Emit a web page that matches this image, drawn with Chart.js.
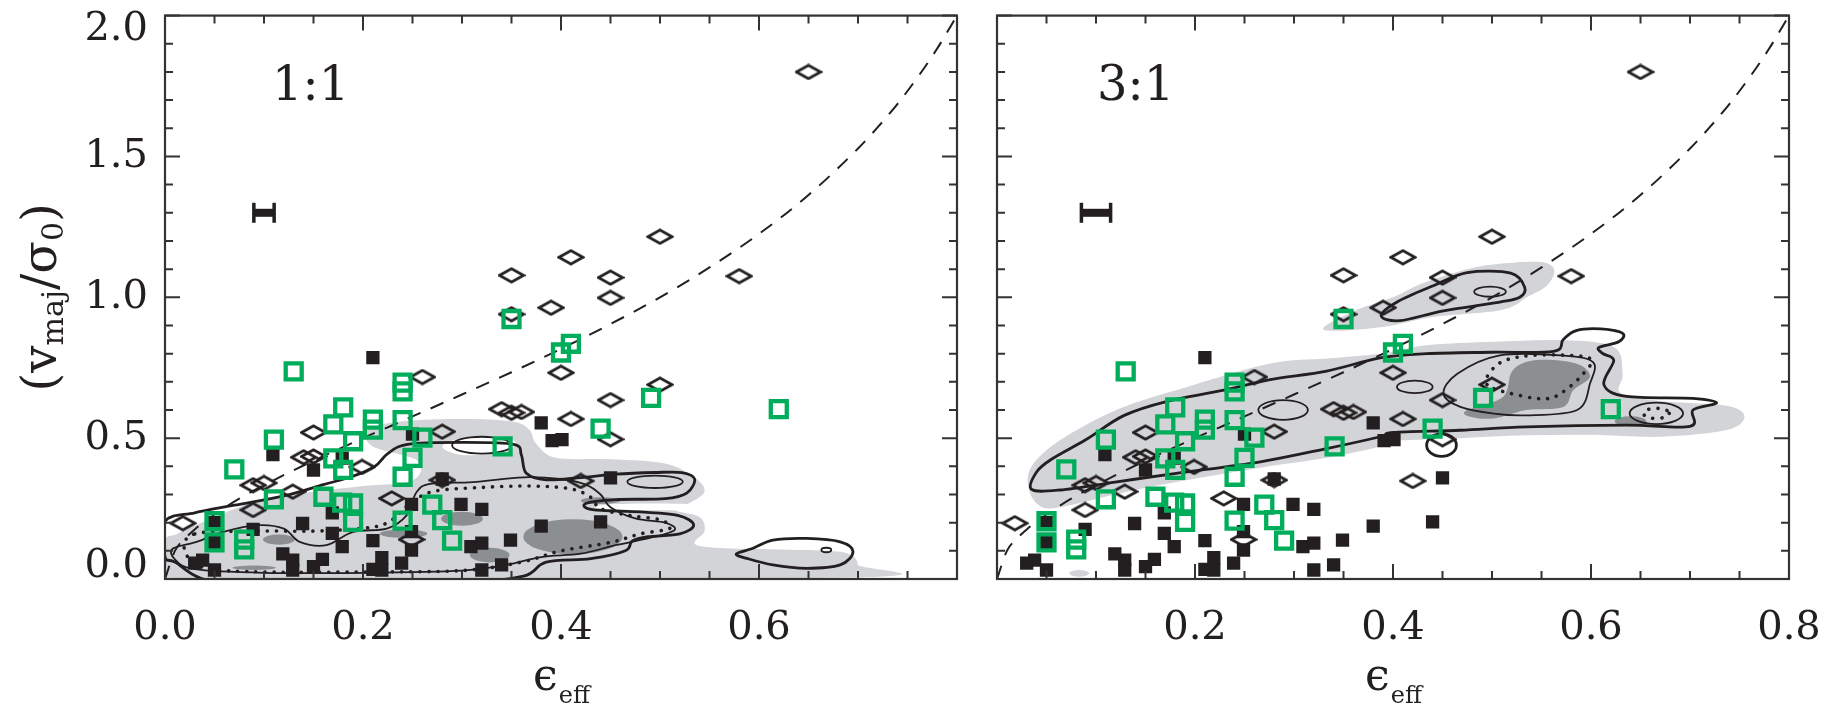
<!DOCTYPE html>
<html><head><meta charset="utf-8">
<script src="https://cdn.jsdelivr.net/npm/chart.js@4.4.0/dist/chart.umd.min.js"></script>
<style>
html,body{margin:0;padding:0;background:#fff;}
body{width:1824px;height:707px;position:relative;overflow:hidden;}
.panel{position:absolute;top:0;height:707px;}
#p1{left:0;width:977px;}
#p2{left:977px;width:847px;}
</style></head><body>
<div class="panel" id="p1"><canvas id="c1"></canvas></div>
<div class="panel" id="p2"><canvas id="c2"></canvas></div>
<script>
// ---------------- data ----------------
const panelLabels = ['1:1', '3:1'];
const xTickLabelsLeft  = ['0.0','0.2','0.4','0.6',''];
const xTickLabelsRight = ['','0.2','0.4','0.6','0.8'];
const yTickValues = [0.0, 0.5, 1.0, 1.5, 2.0];
const yTickLabels = ['0.0','0.5','1.0','1.5','2.0'];

// open diamonds
const diamondX = [0.650,0.500,0.410,0.350,0.450,0.580,0.450,0.390,0.350,0.400,0.500,0.450,0.410,0.450,0.420,0.260,0.150,0.280,0.140,0.150,0.199,0.089,0.100,0.129,0.089,0.018,0.229,0.340,0.350,0.360,0.280,0.249];
const diamondY = [1.800,1.215,1.142,1.078,1.070,1.075,0.998,0.963,0.940,0.732,0.690,0.635,0.568,0.496,0.348,0.717,0.520,0.523,0.432,0.435,0.398,0.333,0.341,0.310,0.245,0.198,0.286,0.603,0.590,0.593,0.351,0.140];

// filled black squares
const blackX = [0.210,0.380,0.391,0.401,0.250,0.109,0.150,0.179,0.280,0.450,0.380,0.440,0.249,0.299,0.320,0.089,0.050,0.050,0.139,0.169,0.169,0.179,0.210,0.249,0.249,0.309,0.320,0.349,0.340,0.320,0.030,0.038,0.050,0.119,0.129,0.129,0.150,0.159,0.210,0.219,0.219,0.239];
const blackY = [0.786,0.554,0.491,0.495,0.514,0.442,0.387,0.429,0.355,0.359,0.188,0.203,0.265,0.265,0.247,0.176,0.200,0.129,0.197,0.235,0.162,0.115,0.136,0.168,0.103,0.115,0.127,0.138,0.050,0.032,0.056,0.067,0.032,0.089,0.067,0.032,0.044,0.070,0.034,0.076,0.032,0.056];

// open green squares
const greenX = [0.130,0.240,0.240,0.180,0.170,0.210,0.210,0.240,0.260,0.110,0.190,0.170,0.180,0.250,0.240,0.070,0.341,0.110,0.160,0.179,0.190,0.190,0.050,0.050,0.080,0.080,0.240,0.270,0.280,0.290,0.350,0.410,0.400,0.491,0.440,0.620];
const greenY = [0.737,0.697,0.666,0.609,0.549,0.566,0.530,0.564,0.502,0.495,0.489,0.428,0.387,0.430,0.363,0.389,0.471,0.283,0.292,0.271,0.268,0.203,0.205,0.130,0.140,0.105,0.207,0.264,0.209,0.136,0.923,0.835,0.804,0.643,0.534,0.603];

// dashed reference curve
const curveX = [0.000,0.010,0.020,0.030,0.050,0.075,0.100,0.150,0.200,0.250,0.300,0.350,0.400,0.450,0.500,0.550,0.600,0.650,0.700,0.720,0.740,0.760,0.780,0.800];
const curveY = [0.000,0.100,0.143,0.176,0.229,0.285,0.333,0.420,0.500,0.577,0.655,0.734,0.817,0.905,1.000,1.106,1.225,1.363,1.528,1.604,1.687,1.780,1.883,2.000];

// typical error bar
const errX = [0.10, 0.10];
const errY = [1.30, 1.30];
const errHalf = [0.0105, 0.015];

// ---- contours, 1:1 panel ----
const L_light = [[0.000,0.005],[0.690,0.005],[0.700,0.050],[0.685,0.095],[0.620,0.105],[0.560,0.110],[0.535,0.125],[0.545,0.170],[0.540,0.220],[0.515,0.245],[0.530,0.270],[0.545,0.310],[0.535,0.360],[0.505,0.410],[0.450,0.425],[0.395,0.430],[0.375,0.480],[0.368,0.530],[0.350,0.560],[0.300,0.568],[0.240,0.560],[0.205,0.530],[0.210,0.470],[0.255,0.420],[0.250,0.350],[0.200,0.330],[0.150,0.310],[0.110,0.290],[0.075,0.255],[0.040,0.205],[0.012,0.160],[0.000,0.135]];
const L_darkEll = [[0.115,0.140,0.016,0.018],[0.090,0.040,0.022,0.008],[0.241,0.161,0.024,0.015],[0.300,0.214,0.021,0.025],[0.328,0.085,0.020,0.026],[0.412,0.150,0.050,0.062],[0.440,0.278,0.020,0.012]];
const L_hole = [[0.280,0.470],[0.300,0.500],[0.340,0.505],[0.355,0.480],[0.340,0.450],[0.300,0.440]];
const L_gap = [[0.440,0.262],[0.480,0.268],[0.530,0.266],[0.548,0.256],[0.530,0.246],[0.480,0.244],[0.440,0.250]];
const L_thick = [[0.000,0.205],[0.030,0.235],[0.070,0.262],[0.120,0.295],[0.160,0.335],[0.190,0.365],[0.212,0.400],[0.225,0.445],[0.245,0.478],[0.300,0.485],[0.352,0.478],[0.360,0.440],[0.365,0.375],[0.385,0.352],[0.420,0.360],[0.455,0.372],[0.495,0.378],[0.522,0.378],[0.535,0.355],[0.527,0.305],[0.505,0.285],[0.455,0.282],[0.425,0.268],[0.432,0.246],[0.480,0.238],[0.518,0.226],[0.534,0.192],[0.520,0.160],[0.488,0.150],[0.472,0.135],[0.465,0.100],[0.430,0.072],[0.385,0.060],[0.362,0.010],[0.300,-0.010],[0.150,-0.010],[0.050,-0.010],[0.010,0.060],[0.000,0.080]];
const L_loop = [[0.577,0.089],[0.594,0.109],[0.614,0.138],[0.648,0.144],[0.682,0.132],[0.695,0.097],[0.682,0.050],[0.648,0.038],[0.614,0.050],[0.588,0.073]];
const L_thin = [[0.008,0.108],[0.032,0.132],[0.059,0.167],[0.093,0.191],[0.120,0.179],[0.136,0.132],[0.163,0.120],[0.190,0.167],[0.224,0.179],[0.244,0.226],[0.254,0.308],[0.268,0.338],[0.311,0.344],[0.362,0.361],[0.399,0.355],[0.425,0.335],[0.440,0.300],[0.450,0.255],[0.475,0.215],[0.505,0.200],[0.515,0.175],[0.495,0.150],[0.455,0.120],[0.420,0.090],[0.380,0.078],[0.345,0.050],[0.300,0.030],[0.200,0.022],[0.100,0.022],[0.030,0.035],[0.010,0.070]];
const L_dotted = [[0.030,0.160],[0.090,0.170],[0.150,0.170],[0.200,0.180],[0.225,0.200],[0.245,0.260],[0.270,0.310],[0.320,0.325],[0.370,0.330],[0.410,0.320],[0.430,0.290],[0.440,0.250],[0.470,0.225],[0.500,0.210],[0.510,0.180],[0.480,0.160],[0.450,0.130],[0.400,0.100],[0.360,0.060],[0.300,0.030],[0.200,0.025],[0.100,0.025],[0.040,0.040],[0.020,0.100]];
const L_thinEll = [[0.495,0.345,0.028,0.022],[0.668,0.103,0.005,0.008],[0.320,0.475,0.030,0.030]];

// ---- contours, 3:1 panel ----
const R_light1 = [[0.035,0.400],[0.064,0.493],[0.124,0.605],[0.192,0.682],[0.276,0.765],[0.333,0.783],[0.387,0.800],[0.434,0.830],[0.502,0.842],[0.569,0.848],[0.623,0.824],[0.632,0.729],[0.630,0.660],[0.670,0.632],[0.737,0.615],[0.755,0.576],[0.737,0.529],[0.670,0.505],[0.602,0.512],[0.535,0.510],[0.468,0.500],[0.400,0.490],[0.387,0.470],[0.333,0.430],[0.266,0.395],[0.198,0.355],[0.131,0.310],[0.064,0.255],[0.043,0.260],[0.032,0.320]];
const R_light2 = [[0.330,0.885],[0.360,0.950],[0.400,1.000],[0.430,1.050],[0.475,1.100],[0.510,1.120],[0.550,1.125],[0.563,1.095],[0.555,1.040],[0.535,1.000],[0.510,0.955],[0.440,0.930],[0.390,0.895]];
const R_lightEll = [[0.083,0.020,0.010,0.012]];
const R_dark = [[0.474,0.598],[0.511,0.646],[0.521,0.741],[0.545,0.777],[0.585,0.765],[0.599,0.718],[0.582,0.670],[0.572,0.611],[0.535,0.600],[0.502,0.570],[0.478,0.576]];
const R_darkEll = [[0.640,0.560,0.016,0.018]];
const R_thick1 = [[0.035,0.318],[0.040,0.380],[0.055,0.425],[0.090,0.495],[0.128,0.580],[0.171,0.630],[0.232,0.672],[0.276,0.708],[0.333,0.738],[0.387,0.785],[0.434,0.800],[0.500,0.805],[0.562,0.808],[0.572,0.850],[0.585,0.882],[0.610,0.888],[0.632,0.872],[0.628,0.842],[0.608,0.822],[0.612,0.800],[0.623,0.776],[0.613,0.690],[0.636,0.648],[0.703,0.641],[0.727,0.625],[0.703,0.600],[0.700,0.542],[0.636,0.546],[0.535,0.540],[0.468,0.528],[0.400,0.520],[0.387,0.505],[0.333,0.463],[0.266,0.416],[0.181,0.375],[0.121,0.345],[0.064,0.316]];
const R_thick2 = [[0.388,0.935],[0.405,0.985],[0.440,1.040],[0.475,1.088],[0.519,1.086],[0.533,1.036],[0.528,1.000],[0.508,0.983],[0.451,0.952],[0.407,0.917]];
const R_bubble = [[0.449,0.475,0.015,0.040]];
const R_thin = [[0.465,0.729],[0.508,0.794],[0.569,0.794],[0.602,0.770],[0.599,0.694],[0.586,0.600],[0.535,0.581],[0.502,0.587],[0.468,0.611],[0.451,0.658]];
const R_thinEll = [[0.498,1.020,0.016,0.018],[0.289,0.600,0.025,0.035],[0.422,0.682,0.018,0.022],[0.666,0.588,0.027,0.038]];
const R_dotted = [[0.495,0.690],[0.505,0.760],[0.530,0.790],[0.570,0.795],[0.600,0.780],[0.590,0.720],[0.570,0.660],[0.555,0.640],[0.530,0.650]];
const R_dottedEll = [[0.666,0.588,0.013,0.018]];

// ---------------- styles ----------------
const INK = '#231f20', FRAME = '#333333', GREEN = '#00ad5b', LIGHT = '#d2d4d7', DARK = '#8c8f92';
const SERIF = '"DejaVu Serif", "Liberation Serif", serif';

const zip = (xs, ys) => xs.map((v, i) => ({x: v, y: ys[i]}));

const diamondImg = document.createElement('canvas');
diamondImg.width = 28; diamondImg.height = 17;
(function(){ const d = diamondImg.getContext('2d'); d.strokeStyle = INK; d.lineWidth = 2.8;
  d.beginPath(); d.moveTo(2,8.5); d.lineTo(14,1.8); d.lineTo(26,8.5); d.lineTo(14,15.2); d.closePath(); d.stroke(); })();

function smoothPath(ctx, p, closed){
  const n = p.length;
  ctx.moveTo(p[0][0], p[0][1]);
  const segs = closed ? n : n - 1;
  for (let i = 0; i < segs; i++){
    const p0 = closed ? p[(i-1+n)%n] : p[Math.max(i-1,0)];
    const p1 = p[i], p2 = p[(i+1)%n];
    const p3 = closed ? p[(i+2)%n] : p[Math.min(i+2,n-1)];
    const t = 1/6;
    ctx.bezierCurveTo(p1[0]+(p2[0]-p0[0])*t, p1[1]+(p2[1]-p0[1])*t, p2[0]-(p3[0]-p1[0])*t, p2[1]-(p3[1]-p1[1])*t, p2[0], p2[1]);
  }
  if (closed) ctx.closePath();
}

function makeDecor(cfg){
  return {
    id: 'decor',
    beforeDatasetsDraw(chart){
      const {ctx, chartArea: a} = chart, sx = chart.scales.x, sy = chart.scales.y;
      const P = pts => pts.map(q => [sx.getPixelForValue(q[0]), sy.getPixelForValue(q[1])]);
      const ell = (e) => { const cx = sx.getPixelForValue(e[0]), cy = sy.getPixelForValue(e[1]);
        const rx = Math.abs(sx.getPixelForValue(e[0]+e[2]) - cx), ry = Math.abs(sy.getPixelForValue(e[1]+e[3]) - cy);
        ctx.beginPath(); ctx.ellipse(cx, cy, rx, ry, 0, 0, Math.PI*2); };
      const poly = (pts) => { ctx.beginPath(); smoothPath(ctx, P(pts), true); };
      ctx.save();
      ctx.beginPath(); ctx.rect(a.left, a.top, a.right - a.left, a.bottom - a.top); ctx.clip();
      ctx.fillStyle = LIGHT;
      (cfg.light||[]).forEach(p => { poly(p); ctx.fill(); });
      (cfg.lightEll||[]).forEach(e => { ell(e); ctx.fill(); });
      ctx.fillStyle = DARK;
      (cfg.dark||[]).forEach(p => { poly(p); ctx.fill(); });
      (cfg.darkEll||[]).forEach(e => { ell(e); ctx.fill(); });
      ctx.fillStyle = '#ffffff';
      (cfg.white||[]).forEach(p => { poly(p); ctx.fill(); });
      (cfg.whiteEll||[]).forEach(e => { ell(e); ctx.fill(); });
      ctx.strokeStyle = INK; ctx.lineJoin = 'round';
      ctx.setLineDash([0.1, 9]); ctx.lineCap = 'round'; ctx.lineWidth = 3.6;
      (cfg.dotted||[]).forEach(p => { poly(p); ctx.stroke(); });
      (cfg.dottedEll||[]).forEach(e => { ell(e); ctx.stroke(); });
      ctx.setLineDash([]); ctx.lineCap = 'butt';
      ctx.lineWidth = 1.8;
      (cfg.thin||[]).forEach(p => { poly(p); ctx.stroke(); });
      (cfg.thinEll||[]).forEach(e => { ell(e); ctx.stroke(); });
      ctx.lineWidth = 2.8;
      (cfg.thick||[]).forEach(p => { poly(p); ctx.stroke(); });
      (cfg.thickEll||[]).forEach(e => { ell(e); ctx.stroke(); });
      ctx.restore();
    },
    afterDatasetsDraw(chart){
      const {ctx, chartArea: a} = chart, sx = chart.scales.x, sy = chart.scales.y;
      ctx.save();
      const i = cfg.idx;
      // error bar
      const ex0 = sx.getPixelForValue(errX[i] - errHalf[i]), ex1 = sx.getPixelForValue(errX[i] + errHalf[i]);
      const ey = sy.getPixelForValue(errY[i]);
      ctx.fillStyle = INK;
      ctx.fillRect(ex0, ey - 4, ex1 - ex0, 8);
      ctx.fillRect(ex0 - 1.5, ey - 10, 3.5, 20);
      ctx.fillRect(ex1 - 2, ey - 10, 3.5, 20);
      // ticks (inward, all four sides)
      ctx.strokeStyle = FRAME; ctx.lineWidth = 2;
      ctx.beginPath();
      for (let k = 0; k <= 16; k++){
        const p = sx.getPixelForValue(k * 0.05), L = (k % 4 === 0) ? 15 : 8;
        ctx.moveTo(p, a.bottom); ctx.lineTo(p, a.bottom - L);
        ctx.moveTo(p, a.top); ctx.lineTo(p, a.top + L);
      }
      for (let k = 0; k <= 20; k++){
        const p = sy.getPixelForValue(k * 0.1), L = (k % 5 === 0) ? 15 : 8;
        ctx.moveTo(a.left, p); ctx.lineTo(a.left + L, p);
        ctx.moveTo(a.right, p); ctx.lineTo(a.right - L, p);
      }
      ctx.stroke();
      ctx.lineWidth = 2.2;
      ctx.strokeRect(a.left, a.top, a.right - a.left, a.bottom - a.top);
      ctx.fillStyle = INK;
      // y tick labels (left panel), end labels kept inside the frame height as in the original
      if (i === 0){
        ctx.font = '40px ' + SERIF; ctx.textAlign = 'right'; ctx.textBaseline = 'middle';
        yTickValues.forEach((v, k) => {
          let p = sy.getPixelForValue(v);
          if (k === 0) p -= 12;
          if (k === yTickValues.length - 1) p += 14;
          ctx.fillText(yTickLabels[k], a.left - 17, p);
        });
      }
      // panel label
      ctx.textBaseline = 'alphabetic'; ctx.textAlign = 'left';
      ctx.font = '48px ' + SERIF;
      ctx.fillText(panelLabels[i], cfg.labelX, 100);
      // x title  ϵ_eff
      const cx = (a.left + a.right) / 2;
      ctx.font = '44px ' + SERIF; const w1 = ctx.measureText('\u03F5').width;
      ctx.font = '24px ' + SERIF; const w2 = ctx.measureText('eff').width;
      const x0 = cx - (w1 + w2) / 2;
      ctx.font = '44px ' + SERIF; ctx.fillText('\u03F5', x0, 690);
      ctx.font = '24px ' + SERIF; ctx.fillText('eff', x0 + w1 + 1, 703);
      // y title (left panel only)
      if (i === 0){
        const parts = [['(',48,0],['v',48,0],['maj',30,7],['/',48,0],['\u03C3',48,0],['0',30,7],[')',48,0]];
        let tot = 0; parts.forEach(q => { ctx.font = q[1] + 'px ' + SERIF; q.push(ctx.measureText(q[0]).width); tot += q[3]; });
        ctx.translate(56, (a.top + a.bottom) / 2);
        ctx.rotate(-Math.PI / 2);
        let xx = -tot / 2;
        parts.forEach(q => { ctx.font = q[1] + 'px ' + SERIF; ctx.fillText(q[0], xx, q[2]); xx += q[3]; });
      }
      ctx.restore();
    }
  };
}

const leftCfg = { idx: 0, labelX: 272,
  light: [L_light], darkEll: L_darkEll, white: [L_hole, L_gap],
  dotted: [L_dotted], thin: [L_thin], thinEll: L_thinEll, thick: [L_thick, L_loop] };
const rightCfg = { idx: 1, labelX: 120,
  light: [R_light1, R_light2], lightEll: R_lightEll, dark: [R_dark], darkEll: R_darkEll, whiteEll: R_bubble,
  dotted: [R_dotted], dottedEll: R_dottedEll, thin: [R_thin], thinEll: R_thinEll, thick: [R_thick1, R_thick2], thickEll: R_bubble };

function makeChart(id, cfg){
  const isLeft = cfg.idx === 0;
  const xl = isLeft ? xTickLabelsLeft : xTickLabelsRight;
  return new Chart(document.getElementById(id), {
    type: 'scatter',
    data: { datasets: [
      { label: 'green', data: zip(greenX, greenY), pointStyle: 'rect', pointRadius: 11.3, borderWidth: 4.3, pointBorderWidth: 4.3, borderColor: GREEN, backgroundColor: 'rgba(0,0,0,0)', order: 0 },
      { label: 'black', data: zip(blackX, blackY), pointStyle: 'rect', pointRadius: 9.4, borderWidth: 0, pointBorderWidth: 0, borderColor: INK, backgroundColor: INK, order: 1 },
      { label: 'diamond', data: zip(diamondX, diamondY), pointStyle: diamondImg, pointRadius: 8, order: 2 },
      { label: 'curve', data: zip(curveX, curveY), showLine: true, pointRadius: 0, borderColor: INK, borderWidth: 2, borderDash: [14, 11], cubicInterpolationMode: 'monotone', order: 3 }
    ]},
    options: {
      responsive: true, maintainAspectRatio: false, animation: false, devicePixelRatio: 1, events: [],
      layout: { padding: { top: 15, right: isLeft ? 20 : 35, left: 0, bottom: 0 } },
      plugins: { legend: { display: false }, tooltip: { enabled: false } },
      scales: {
        x: { type: 'linear', min: 0, max: 0.8,
             afterFit(s){ s.height = 128; s.paddingLeft = 0; s.paddingRight = 0; },
             grid: { display: false, drawTicks: false }, border: { display: false },
             ticks: { stepSize: 0.2, autoSkip: false, maxRotation: 0, padding: 26, color: INK,
                      font: { family: SERIF, size: 40 }, callback: (v, i) => xl[i] } },
        y: { type: 'linear', min: 0, max: 2,
             afterFit(s){ s.width = isLeft ? 165 : 20; s.paddingTop = 0; s.paddingBottom = 0; },
             grid: { display: false, drawTicks: false }, border: { display: false },
             ticks: { display: false, stepSize: 0.5 } }
      }
    },
    plugins: [makeDecor(cfg)]
  });
}
makeChart('c1', leftCfg);
makeChart('c2', rightCfg);
</script>
</body></html>
